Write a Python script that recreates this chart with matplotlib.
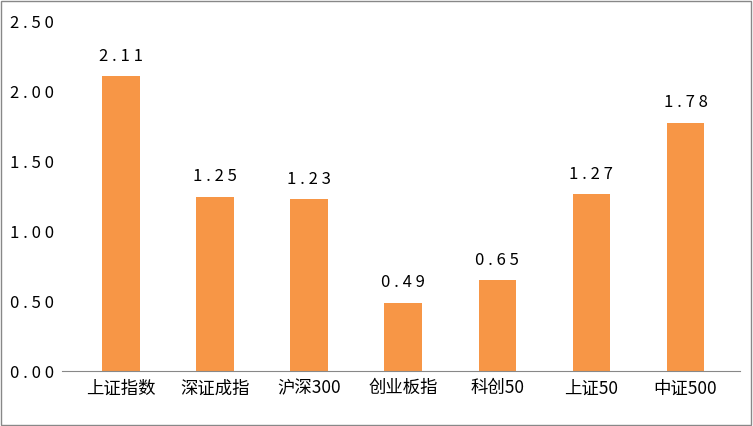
import matplotlib
matplotlib.use("Agg")
import matplotlib.pyplot as plt
from matplotlib.patches import Rectangle

plt.rcParams['font.family'] = ['Noto Sans CJK SC', 'DejaVu Sans']

categories = ["上证指数", "深证成指", "沪深300", "创业板指", "科创50", "上证50", "中证500"]
values = [2.11, 1.25, 1.23, 0.49, 0.65, 1.27, 1.78]
yticks = [0.0, 0.5, 1.0, 1.5, 2.0, 2.5]

fig = plt.figure(figsize=(7.53, 4.26), dpi=100)
ax = fig.add_axes([62/753, 1-371/426, 678/753, 349/426])
x = range(len(categories))
ax.bar(x, values, width=0.4, color="#F79646")
for i, v in zip(x, values):
    ax.text(i, v + 0.08, " ".join(f"{v:.2f}"), ha="center", va="bottom", fontsize=12)
ax.set_xlim(-0.628, 6.58)
ax.set_ylim(0, 2.5)
ax.set_yticks(yticks)
ax.set_yticklabels([" ".join(f"{t:.2f}") for t in yticks], fontsize=12)
ax.set_xticks(list(x))
ax.set_xticklabels(categories, fontsize=12.5)
for s in ["top", "right", "left"]:
    ax.spines[s].set_visible(False)
ax.spines["bottom"].set_color("#888888")
ax.tick_params(axis="both", length=0, pad=6)
fig.patches.append(Rectangle((0.001, 0.002), 0.997, 0.995, transform=fig.transFigure,
                             fill=False, edgecolor="#888888", linewidth=1))
fig.savefig("out.png", dpi=100)
